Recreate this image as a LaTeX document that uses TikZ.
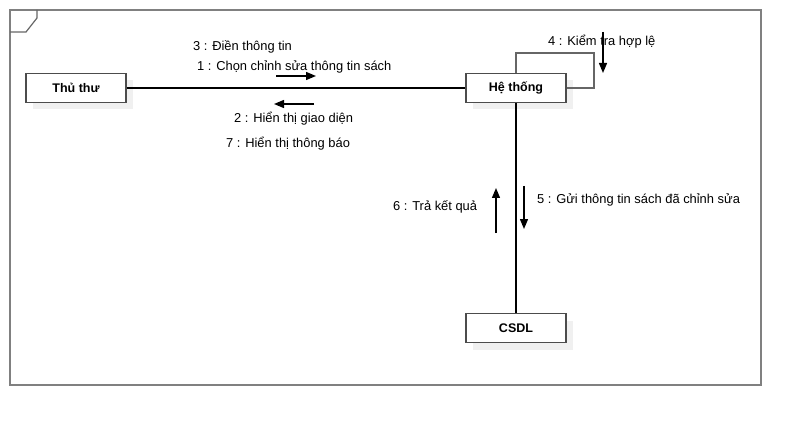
\documentclass[tikz,border=0pt]{standalone}
\usepackage{fontspec}
\setmainfont{Liberation Sans}
\usetikzlibrary{arrows.meta,shadows}
\begin{document}
\begin{tikzpicture}[x=1pt,y=-1pt,
  obj/.style={draw=black!70,line width=1.2pt,fill=white,minimum width=100pt,minimum height=29pt,inner sep=0pt,font=\bfseries\fontsize{12.5}{14}\selectfont,
    drop shadow={shadow xshift=7pt,shadow yshift=-7pt,fill=black!6,opacity=1}},
  lbl/.style={font=\fontsize{12.9}{15}\selectfont,inner sep=0pt,anchor=west},
  link/.style={line width=1.6pt,black},
  msg/.style={line width=1.3pt,-{Triangle[length=10pt,width=8pt]}}]
\useasboundingbox (0,0) rectangle (801,425);
\fill[white] (0,0) rectangle (801,425);
% frame
\draw[black!50,line width=1.5pt] (10,10) rectangle (761,385);
\draw[black!60,line width=1.2pt] (10,32) -- (26,32) -- (37,18) -- (37,10);
% objects
\node[obj] (thu) at (76,88) {Thủ thư};
\node[obj] (ht) at (516,88) {Hệ thống};
\node[obj] (db) at (516,328) {CSDL};
% links
\draw[link] (thu.east) -- (ht.west);
\draw[link] (ht.south) -- (db.north);
\draw[black!60,line width=1.2pt] (ht.east) -| (594,53) -| (ht.north);
% messages
\coordinate (a1s) at (276,76); \coordinate (a1e) at (316,76);
\draw[msg] (a1s) -- (a1e);
\coordinate (a2s) at (314,104); \coordinate (a2e) at (274,104);
\draw[msg] (a2s) -- (a2e);
\coordinate (a4s) at (603,32); \coordinate (a4e) at (603,73);
\draw[msg] (a4s) -- (a4e);
\coordinate (a6s) at (496,233); \coordinate (a6e) at (496,188);
\draw[msg] (a6s) -- (a6e);
\coordinate (a5s) at (524,186); \coordinate (a5e) at (524,229);
\draw[msg] (a5s) -- (a5e);
% labels
\node[lbl] (l3) at (193,47) {3 : Điền thông tin};
\node[lbl] (l1) at (197,67) {1 : Chọn chỉnh sửa thông tin sách};
\node[lbl] (l2) at (234,119) {2 : Hiển thị giao diện};
\node[lbl] (l7) at (226,144) {7 : Hiển thị thông báo};
\node[lbl] (l4) at (548,42) {4 : Kiểm tra hợp lệ};
\node[lbl] (l6) at (393,207) {6 : Trả kết quả};
\node[lbl] (l5) at (537,200) {5 : Gửi thông tin sách đã chỉnh sửa};
\end{tikzpicture}
\end{document}
